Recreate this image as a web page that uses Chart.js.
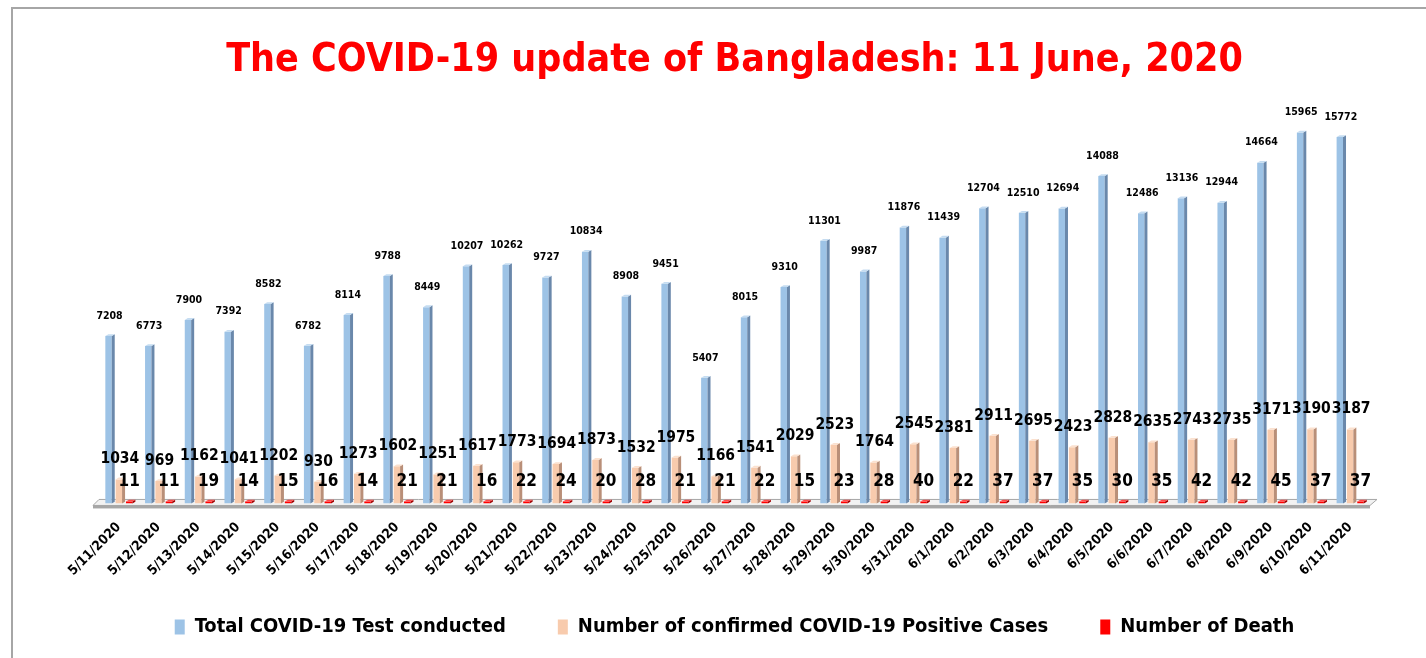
<!DOCTYPE html>
<html>
<head>
<meta charset="utf-8">
<script src="https://cdn.jsdelivr.net/npm/chart.js@4"></script>
<style>
  body { margin: 0; background: #fff; }
  #wrap { position: relative; width: 1426px; height: 658px; overflow: hidden; }
  #frame { position: absolute; left: 11px; top: 7px; width: 1420px; height: 660px;
           border-left: 2px solid #a6a6a6; border-top: 2px solid #a6a6a6; }
  canvas { position: absolute; left: 0; top: 0; }
</style>
</head>
<body>
<div id="wrap">
  <div id="frame"></div>
  <canvas id="chartCovid" width="1426" height="658"></canvas>
</div>
<script>
var fechas = ['5/11/2020', '5/12/2020', '5/13/2020', '5/14/2020', '5/15/2020', '5/16/2020', '5/17/2020', '5/18/2020',
    '5/19/2020', '5/20/2020', '5/21/2020', '5/22/2020', '5/23/2020', '5/24/2020', '5/25/2020', '5/26/2020',
    '5/27/2020', '5/28/2020', '5/29/2020', '5/30/2020', '5/31/2020', '6/1/2020', '6/2/2020', '6/3/2020',
    '6/4/2020', '6/5/2020', '6/6/2020', '6/7/2020', '6/8/2020', '6/9/2020', '6/10/2020', '6/11/2020'];

var pruebas = [7208, 6773, 7900, 7392, 8582, 6782, 8114, 9788, 8449, 10207, 10262, 9727, 10834, 8908, 9451, 5407,
    8015, 9310, 11301, 9987, 11876, 11439, 12704, 12510, 12694, 14088, 12486, 13136, 12944, 14664, 15965, 15772];

var positivos = [1034, 969, 1162, 1041, 1202, 930, 1273, 1602, 1251, 1617, 1773, 1694, 1873, 1532, 1975, 1166,
    1541, 2029, 2523, 1764, 2545, 2381, 2911, 2695, 2423, 2828, 2635, 2743, 2735, 3171, 3190, 3187];

var muertes = [11, 11, 19, 14, 15, 16, 14, 21, 21, 16, 22, 24, 20, 28, 21, 21,
    22, 15, 23, 28, 40, 22, 37, 37, 35, 30, 35, 42, 42, 45, 37, 37];

var FUENTE = "'DejaVu Sans Condensed', sans-serif";
var PROF = 3; // profundidad del efecto 3D

// colores: cara, lado, tapa
var estilos = [
    { cara: '#9dc3e6', lado: '#6a88ab', tapa: '#c5dcf1' },
    { cara: '#f8cbad', lado: '#b98f78', tapa: '#fbe1cf' },
    { cara: '#ff0000', lado: '#a00000', tapa: '#ff4a4a' }
];

// piso gris debajo de las barras
var pisoPlugin = {
    id: 'piso',
    beforeDatasetsDraw: function (chart) {
        var a = chart.chartArea;
        var c = chart.ctx;
        var b = a.bottom;
        c.save();
        c.fillStyle = '#f2f2f2';
        c.strokeStyle = '#a6a6a6';
        c.lineWidth = 1;
        c.beginPath();
        c.moveTo(a.left, b - 4);
        c.lineTo(a.right + 7, b - 4);
        c.lineTo(a.right, b + 2);
        c.lineTo(a.left - 6, b + 2);
        c.closePath();
        c.fill();
        c.stroke();
        c.fillStyle = '#a6a6a6';
        c.fillRect(a.left - 6, b + 2, a.right - a.left + 6, 3);
        c.restore();
    }
};

// lados y tapas de las barras
var barras3dPlugin = {
    id: 'barras3d',
    afterDatasetsDraw: function (chart) {
        var c = chart.ctx;
        c.save();
        chart.data.datasets.forEach(function (ds, i) {
            var meta = chart.getDatasetMeta(i);
            var st = estilos[i];
            meta.data.forEach(function (el) {
                var p = el.getProps(['x', 'y', 'base', 'width'], true);
                var l = p.x - p.width / 2;
                var r = p.x + p.width / 2;
                c.fillStyle = st.lado;
                c.beginPath();
                c.moveTo(r, p.y);
                c.lineTo(r + PROF, p.y - PROF * 0.6);
                c.lineTo(r + PROF, p.base - PROF * 0.6);
                c.lineTo(r, p.base);
                c.closePath();
                c.fill();
                c.fillStyle = st.tapa;
                c.beginPath();
                c.moveTo(l, p.y);
                c.lineTo(l + PROF, p.y - PROF * 0.6);
                c.lineTo(r + PROF, p.y - PROF * 0.6);
                c.lineTo(r, p.y);
                c.closePath();
                c.fill();
            });
        });
        c.restore();
    }
};

// etiquetas de valores
var etiquetasPlugin = {
    id: 'etiquetas',
    afterDatasetsDraw: function (chart) {
        var c = chart.ctx;
        var tam = [10.5, 15.5, 17];
        var dx = [1, 1, 0];
        c.save();
        c.fillStyle = '#000';
        c.textAlign = 'center';
        c.textBaseline = 'middle';
        chart.data.datasets.forEach(function (ds, i) {
            var meta = chart.getDatasetMeta(i);
            c.font = 'bold ' + tam[i] + 'px ' + FUENTE;
            meta.data.forEach(function (el, j) {
                c.fillText(String(ds.data[j]), el.x + dx[i], el.y - 20);
            });
        });
        c.restore();
    }
};

new Chart(document.getElementById('chartCovid'), {
    type: 'bar',
    data: {
        labels: fechas,
        datasets: [{
            label: 'Total COVID-19 Test conducted',
            data: pruebas,
            backgroundColor: estilos[0].cara
        }, {
            label: 'Number of confirmed COVID-19 Positive Cases',
            data: positivos,
            backgroundColor: estilos[1].cara
        }, {
            label: 'Number of Death',
            data: muertes,
            backgroundColor: estilos[2].cara,
            minBarLength: 2
        }]
    },
    options: {
        responsive: false,
        animation: false,
        layout: { padding: { left: 99, right: 56, top: 0, bottom: 11 } },
        datasets: { bar: { categoryPercentage: 0.78, barPercentage: 0.62 } },
        scales: {
            x: {
                grid: { display: false },
                border: { display: false },
                ticks: {
                    color: '#000',
                    minRotation: 45,
                    maxRotation: 45,
                    padding: 8,
                    font: { family: FUENTE, size: 13.5, weight: 'bold' }
                },
                // las fechas pueden invadir el espacio vacío sobre la leyenda
                afterFit: function (scale) {
                    scale.height = scale.height - 22;
                    scale._computeLabelArea = function () { return null; };
                }
            },
            y: {
                display: false,
                min: 0,
                max: 17200
            }
        },
        plugins: {
            title: {
                display: true,
                text: 'The COVID-19 update of Bangladesh: 11 June, 2020',
                color: '#ff0000',
                padding: { top: 37, bottom: 20 },
                font: { family: FUENTE, size: 39, weight: 'bold' }
            },
            legend: {
                position: 'bottom',
                labels: {
                    color: '#000',
                    boxWidth: 10,
                    boxHeight: 15,
                    padding: 52,
                    font: { family: FUENTE, size: 20, weight: 'bold' }
                }
            },
            tooltip: { enabled: false }
        }
    },
    plugins: [pisoPlugin, barras3dPlugin, etiquetasPlugin]
});
</script>
</body>
</html>
